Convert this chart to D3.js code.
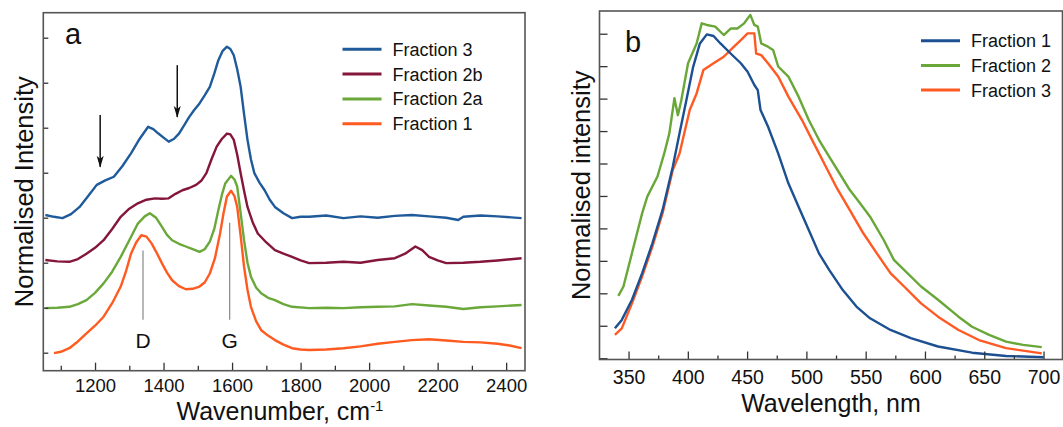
<!DOCTYPE html>
<html>
<head>
<meta charset="utf-8">
<script src="https://cdn.jsdelivr.net/npm/d3@7"></script>
<style>
  body { margin: 0; background: #fff; }
  text { font-family: "Liberation Sans", Arial, sans-serif; fill: #111; }
</style>
</head>
<body>
<svg id="chart" width="1063" height="427"></svg>
<script>
// Panel a: Raman spectra, [wavenumber, offset intensity]
const ramanFraction1 = [[1080,-0.01],[1100,0.02],[1125,0.1],[1150,0.25],[1175,0.43],[1200,0.6],[1225,0.8],[1250,1.1],[1275,1.47],[1290,1.8],[1305,2.2],[1320,2.45],[1335,2.61],[1350,2.58],[1365,2.43],[1380,2.22],[1395,1.99],[1410,1.78],[1425,1.61],[1445,1.48],[1465,1.41],[1485,1.42],[1505,1.47],[1520,1.56],[1535,1.76],[1550,2.1],[1565,2.65],[1575,3.1],[1585,3.47],[1597,3.6],[1607,3.48],[1615,3.24],[1625,2.6],[1635,1.91],[1645,1.4],[1655,1.02],[1670,0.7],[1685,0.5],[1705,0.38],[1725,0.28],[1750,0.18],[1775,0.1],[1800,0.07],[1825,0.06],[1875,0.07],[1925,0.1],[1975,0.14],[2025,0.2],[2075,0.24],[2125,0.28],[2175,0.3],[2225,0.27],[2275,0.24],[2325,0.23],[2375,0.2],[2410,0.16],[2445,0.1]];
const ramanFraction2a = [[1055,0.99],[1090,1.0],[1125,1.02],[1150,1.08],[1175,1.17],[1200,1.33],[1225,1.54],[1250,1.8],[1275,2.13],[1300,2.5],[1325,2.87],[1345,3.03],[1360,3.1],[1378,3.0],[1395,2.8],[1410,2.62],[1425,2.5],[1445,2.42],[1465,2.36],[1485,2.3],[1505,2.24],[1520,2.3],[1535,2.47],[1548,2.75],[1560,3.17],[1570,3.5],[1580,3.76],[1597,3.93],[1607,3.85],[1615,3.69],[1625,3.1],[1635,2.5],[1645,2.0],[1655,1.69],[1670,1.45],[1685,1.32],[1705,1.22],[1725,1.17],[1750,1.08],[1775,1.02],[1825,0.99],[1875,1.0],[1925,0.99],[1975,1.01],[2025,1.02],[2075,1.03],[2125,1.08],[2175,1.05],[2225,1.02],[2275,0.97],[2325,1.01],[2375,1.03],[2445,1.06]];
const ramanFraction2b = [[1055,2.06],[1090,2.03],[1125,2.02],[1150,2.08],[1175,2.2],[1200,2.33],[1225,2.5],[1250,2.75],[1275,3.02],[1300,3.2],[1325,3.32],[1350,3.4],[1375,3.43],[1395,3.42],[1415,3.43],[1435,3.53],[1455,3.61],[1475,3.66],[1495,3.73],[1510,3.82],[1525,3.99],[1540,4.3],[1555,4.58],[1570,4.75],[1585,4.87],[1595,4.85],[1605,4.73],[1615,4.4],[1625,3.99],[1635,3.6],[1645,3.24],[1660,2.9],[1675,2.65],[1700,2.45],[1725,2.28],[1750,2.2],[1775,2.13],[1800,2.05],[1825,1.99],[1875,2.0],[1925,2.02],[1975,2.0],[2025,2.06],[2075,2.1],[2105,2.2],[2135,2.36],[2155,2.28],[2175,2.13],[2200,2.05],[2225,1.99],[2275,2.0],[2325,2.02],[2375,2.05],[2445,2.1]];
const ramanFraction3 = [[1055,3.06],[1080,3.02],[1105,2.99],[1130,3.08],[1155,3.24],[1180,3.48],[1205,3.73],[1230,3.83],[1255,3.91],[1280,4.15],[1305,4.43],[1330,4.75],[1355,5.02],[1370,4.97],[1385,4.87],[1400,4.78],[1415,4.69],[1430,4.75],[1445,4.87],[1460,5.05],[1475,5.24],[1490,5.4],[1505,5.54],[1520,5.72],[1535,5.91],[1548,6.2],[1560,6.5],[1572,6.7],[1585,6.8],[1595,6.75],[1605,6.61],[1615,6.3],[1625,5.91],[1635,5.3],[1645,4.73],[1655,4.3],[1665,3.99],[1680,3.78],[1695,3.61],[1710,3.4],[1725,3.24],[1750,3.1],[1775,2.99],[1800,3.02],[1825,3.02],[1875,3.05],[1925,2.99],[1975,3.03],[2025,3.0],[2075,3.04],[2125,3.06],[2175,3.03],[2225,3.0],[2260,2.95],[2275,3.02],[2325,3.05],[2375,3.03],[2445,2.99]];

// Panel b: photoluminescence, [wavelength nm, normalised intensity]
const plFraction1 = [[338.5,0.092],[344.3,0.118],[352.9,0.18],[361.5,0.262],[370.1,0.354],[378.7,0.457],[387.3,0.59],[393,0.693],[398.8,0.796],[404.5,0.898],[410.2,0.97],[416,0.998],[421.7,0.993],[427.5,0.97],[436.1,0.939],[444.7,0.909],[450.4,0.883],[456.1,0.842],[459,0.826],[461.3,0.765],[467.6,0.714],[476.2,0.631],[484.8,0.539],[493.4,0.467],[502,0.395],[510.6,0.323],[519.2,0.272],[530.7,0.21],[542.2,0.159],[553.7,0.123],[570.9,0.087],[588.1,0.062],[611,0.036],[639.7,0.017],[668.4,0.007],[700,0.003]];
const plFraction2 = [[341.4,0.192],[345.7,0.221],[352.9,0.324],[361.5,0.447],[365.8,0.498],[374.4,0.56],[380.1,0.631],[384.4,0.693],[388.7,0.801],[391.6,0.749],[394.5,0.795],[400.2,0.909],[407.4,0.97],[411.7,1.032],[416,1.027],[423.1,1.022],[430.3,0.996],[436.1,1.016],[441.8,1.016],[447.5,1.032],[452.7,1.058],[456.1,1.027],[459,1.022],[461.9,0.97],[467.6,0.96],[471.9,0.95],[476.2,0.899],[484.8,0.868],[493.4,0.806],[502,0.734],[510.6,0.673],[519.2,0.621],[527.9,0.57],[536.5,0.519],[545.1,0.478],[553.7,0.436],[565.1,0.365],[573.8,0.303],[582.4,0.272],[596.7,0.221],[611,0.18],[628.3,0.128],[639.7,0.097],[654.1,0.072],[668.4,0.051],[682.8,0.041],[698.5,0.034]];
const plFraction3 = [[338.5,0.072],[344.3,0.092],[352.9,0.169],[361.5,0.252],[370.1,0.344],[378.7,0.447],[387.3,0.58],[393,0.631],[401.6,0.765],[407.4,0.816],[413.1,0.888],[421.7,0.909],[430.3,0.929],[438.9,0.96],[444.7,0.98],[450.4,1.001],[456.1,1.001],[457.6,0.939],[461.9,0.934],[467.6,0.909],[476.2,0.868],[484.8,0.806],[496.3,0.734],[504.9,0.672],[513.5,0.611],[525,0.529],[536.5,0.457],[548,0.385],[559.4,0.323],[570.9,0.262],[582.4,0.221],[596.7,0.169],[611,0.128],[628.3,0.087],[645.5,0.056],[668.4,0.031],[698.5,0.015]];

const ramanSeries = [
  { name: "Fraction 3", data: ramanFraction3, color: "#1f5b9a" },
  { name: "Fraction 2b", data: ramanFraction2b, color: "#84163a" },
  { name: "Fraction 2a", data: ramanFraction2a, color: "#6aa83a" },
  { name: "Fraction 1", data: ramanFraction1, color: "#ff5a1f" }
];
const plSeries = [
  { name: "Fraction 1", data: plFraction1, color: "#1c5092" },
  { name: "Fraction 2", data: plFraction2, color: "#69a739" },
  { name: "Fraction 3", data: plFraction3, color: "#ff5a24" }
];

const ramanMajorTicks = [1200, 1400, 1600, 1800, 2000, 2200, 2400];
const ramanMinorTicks = [1100, 1300, 1500, 1700, 1900, 2100, 2300];
const ramanYTicks = [0, 1, 2, 3, 4, 5, 6, 7];
const plMajorTicks = [350, 400, 450, 500, 550, 600, 650, 700];
const plMinorTicks = [375, 425, 475, 525, 575, 625, 675];
const plYTicks = [0, 0.1, 0.2, 0.3, 0.4, 0.5, 0.6, 0.7, 0.8, 0.9, 1.0];

// band markers and arrows (data coordinates)
const bandLabels = [{ label: "D", x: 1340, y0: 2.27, y1: 0.73 }, { label: "G", x: 1593, y0: 2.89, y1: 0.73 }];
const arrows = [{ x: 1215, y0: 5.28, y1: 4.13 }, { x: 1440, y0: 6.39, y1: 5.24 }];

const svg = d3.select("#chart");

svg.append("defs").append("marker")
  .attr("id", "arrow")
  .attr("viewBox", "0 0 12 8")
  .attr("refX", 11).attr("refY", 4)
  .attr("markerWidth", 12).attr("markerHeight", 8)
  .attr("markerUnits", "userSpaceOnUse")
  .attr("orient", "auto")
  .append("path")
  .attr("d", "M0,0.5 L12,4 L0,7.5 L3,4 Z")
  .attr("fill", "#111");

function drawPanel(opts) {
  const { x, y } = opts;
  const g = svg.append("g");
  const [x0, x1] = x.range();
  const [yb, yt] = y.range();

  // curves
  const line = d3.line().x(d => x(d[0])).y(d => y(d[1]));
  opts.series.slice().reverse().forEach(s => {
    g.append("path")
      .datum(s.data)
      .attr("fill", "none")
      .attr("stroke", s.color)
      .attr("stroke-width", 2.4)
      .attr("stroke-linejoin", "round")
      .attr("d", line);
  });

  // minor x ticks
  g.append("g")
    .attr("transform", `translate(0,${yb})`)
    .call(d3.axisBottom(x).tickValues(opts.minorTicks).tickSize(-opts.minorLen).tickFormat(""))
    .call(a => a.select(".domain").remove())
    .call(a => a.selectAll("line").attr("stroke", "#333").attr("stroke-width", 1.3));

  // major x ticks + labels
  g.append("g")
    .attr("transform", `translate(0,${yb})`)
    .call(d3.axisBottom(x).tickValues(opts.majorTicks).tickSize(-opts.majorLen).tickPadding(opts.pad).tickFormat(d3.format("d")))
    .call(a => a.select(".domain").remove())
    .call(a => a.selectAll("line").attr("stroke", "#333").attr("stroke-width", 1.3))
    .call(a => a.selectAll("text").attr("font-size", opts.tickFont).attr("fill", "#111")
      .style("font-family", '"Liberation Sans", Arial, sans-serif'));

  // y ticks (no labels)
  g.append("g")
    .attr("transform", `translate(${x0},0)`)
    .call(d3.axisLeft(y).tickValues(opts.yTicks).tickSize(-opts.yLen).tickFormat(""))
    .call(a => a.select(".domain").remove())
    .call(a => a.selectAll("line").attr("stroke", "#333").attr("stroke-width", 1.3));

  // frame
  g.append("rect")
    .attr("x", x0).attr("y", yt)
    .attr("width", x1 - x0).attr("height", yb - yt)
    .attr("fill", "none").attr("stroke", "#555").attr("stroke-width", 1.6);

  // legend
  opts.series.forEach((s, i) => {
    const ly = opts.legend.y + i * opts.legend.dy;
    g.append("line")
      .attr("x1", opts.legend.x).attr("x2", opts.legend.x + opts.legend.len)
      .attr("y1", ly).attr("y2", ly)
      .attr("stroke", s.color).attr("stroke-width", 3);
    g.append("text")
      .attr("x", opts.legend.x + opts.legend.len + opts.legend.gap)
      .attr("y", ly).attr("dy", "0.36em")
      .attr("font-size", 18)
      .text(s.name);
  });

  // panel letter
  g.append("text")
    .attr("x", opts.letter.x).attr("y", opts.letter.y)
    .attr("text-anchor", "middle").attr("font-size", 29)
    .text(opts.letter.text);

  // y title
  g.append("text")
    .attr("transform", `translate(${opts.yTitle.x},${(yb + yt) / 2}) rotate(-90)`)
    .attr("text-anchor", "middle").attr("font-size", 25.5)
    .text(opts.yTitle.text);

  return g;
}

const xA = d3.scaleLinear().domain([1049, 2455]).range([43.3, 525]);
const yA = d3.scaleLinear().domain([-0.4, 7.556]).range([370.7, 12.7]);

const gA = drawPanel({
  x: xA, y: yA, series: ramanSeries,
  majorTicks: ramanMajorTicks, minorTicks: ramanMinorTicks, yTicks: ramanYTicks,
  majorLen: 8, minorLen: 5, yLen: 5, pad: 8.5, tickFont: 18.5,
  legend: { x: 342.5, y: 49.3, dy: 24.8, len: 39, gap: 11 },
  letter: { x: 73, y: 43.5, text: "a" },
  yTitle: { x: 33, text: "Normalised Intensity" }
});

// D and G band markers
bandLabels.forEach(b => {
  gA.append("line")
    .attr("x1", xA(b.x)).attr("x2", xA(b.x))
    .attr("y1", yA(b.y0)).attr("y2", yA(b.y1))
    .attr("stroke", "#888").attr("stroke-width", 1.2);
  gA.append("text")
    .attr("x", xA(b.x)).attr("y", yA(b.y1) + 28)
    .attr("text-anchor", "middle").attr("font-size", 21)
    .text(b.label);
});

// arrows
arrows.forEach(a => {
  gA.append("line")
    .attr("x1", xA(a.x)).attr("x2", xA(a.x))
    .attr("y1", yA(a.y0)).attr("y2", yA(a.y1))
    .attr("stroke", "#111").attr("stroke-width", 1.5)
    .attr("marker-end", "url(#arrow)");
});

// x title a
const tA = gA.append("text")
  .attr("x", 280).attr("y", 419.5)
  .attr("text-anchor", "middle").attr("font-size", 25);
tA.append("tspan").text("Wavenumber, cm");
tA.append("tspan").attr("dy", -9).attr("font-size", 15).text("-1");

const xB = d3.scaleLinear().domain([325.5, 716]).range([599.5, 1062.5]);
const yB = d3.scaleLinear().domain([-0.004, 1.07]).range([359.5, 11]);

const gB = drawPanel({
  x: xB, y: yB, series: plSeries,
  majorTicks: plMajorTicks, minorTicks: plMinorTicks, yTicks: plYTicks,
  majorLen: 8, minorLen: 4, yLen: 8, pad: 10.5, tickFont: 19.5,
  legend: { x: 921, y: 40.7, dy: 24.7, len: 39, gap: 11 },
  letter: { x: 633, y: 51.5, text: "b" },
  yTitle: { x: 590, text: "Normalised intensity" }
});

gB.append("text")
  .attr("x", 831).attr("y", 412)
  .attr("text-anchor", "middle").attr("font-size", 25)
  .text("Wavelength, nm");
</script>
</body>
</html>
